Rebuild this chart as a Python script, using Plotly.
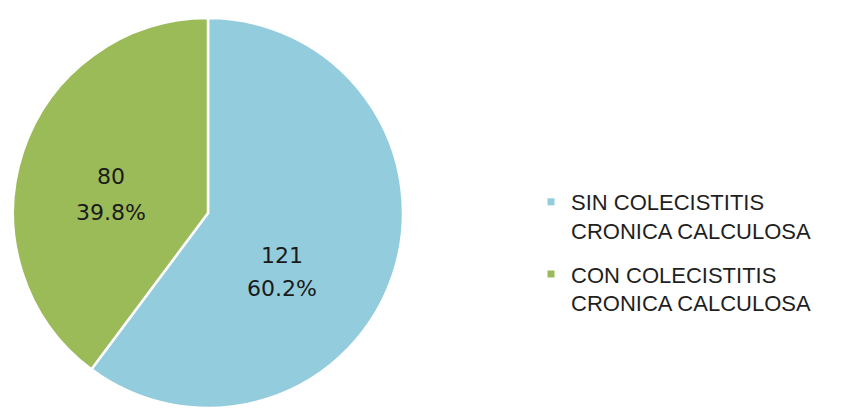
import plotly.graph_objects as go

# Patients by presence of chronic calculous cholecystitis
categories = ["SIN COLECISTITIS<br>CRONICA CALCULOSA", "CON COLECISTITIS<br>CRONICA CALCULOSA"]
counts = [121, 80]
colors = ["#93CDDD", "#9BBB59"]

total = sum(counts)
W, H = 853, 408

fig = go.Figure()

fig.add_trace(go.Pie(
    labels=categories,
    values=counts,
    sort=False,
    direction="clockwise",
    rotation=0,
    marker=dict(colors=colors, line=dict(color="white", width=2.5)),
    textinfo="none",
    hoverinfo="label+value+percent",
    showlegend=False,
    domain=dict(x=[13 / W, 403 / W], y=[0, 1 - 18 / H]),
))

# Legend entries with small square swatches
for i, (name, col) in enumerate(zip(categories, colors)):
    fig.add_trace(go.Scatter(
        x=[None], y=[None], mode="markers", name=name,
        marker=dict(symbol="square", size=7, color=col),
        legendgroup=f"g{i}", showlegend=True,
    ))

# Data labels: count and percentage inside each slice
label_pos = [(282, 255, 288), (111, 176, 212)]
for v, (px, py_val, py_pct) in zip(counts, label_pos):
    pct = v / total * 100
    for txt, py in ((f"{v}", py_val), (f"{pct:.1f}%", py_pct)):
        fig.add_annotation(
            x=px / W, y=1 - py / H, xref="paper", yref="paper",
            text=txt, showarrow=False, xanchor="center", yanchor="middle",
            font=dict(family="DejaVu Sans", size=22, color="#1a1a1a"),
        )

fig.update_layout(
    width=W, height=H,
    margin=dict(l=0, r=0, t=0, b=0),
    paper_bgcolor="white", plot_bgcolor="white",
    xaxis=dict(visible=False), yaxis=dict(visible=False),
    legend=dict(
        x=531 / W, y=1 - 181 / H, xanchor="left", yanchor="top",
        font=dict(family="Liberation Sans, Arial", size=22, color="#1f1f1f"),
        traceorder="grouped", tracegroupgap=12, valign="top",
        itemwidth=30, bgcolor="rgba(0,0,0,0)",
    ),
)

fig.write_html("out.html")
